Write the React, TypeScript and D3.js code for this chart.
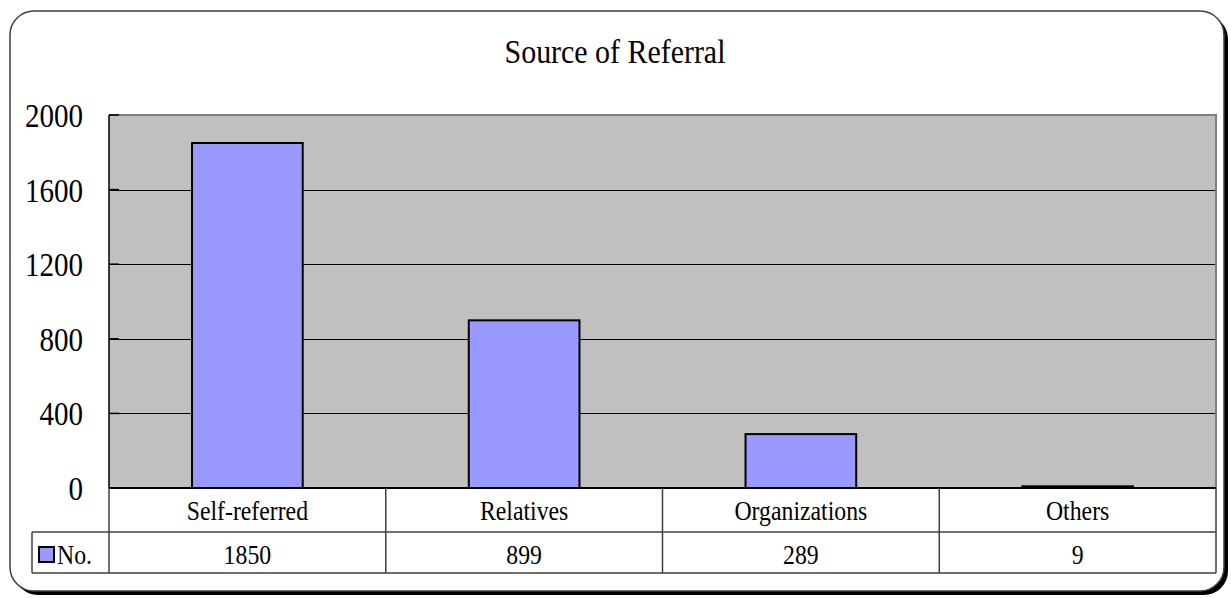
import React, { useEffect, useRef } from 'react';
import * as d3 from 'd3';

const title = 'Source of Referral';
const categories = ['Self-referred', 'Relatives', 'Organizations', 'Others'];
const seriesName = 'No.';
const values = [1850, 899, 289, 9];
const yTicks = [0, 400, 800, 1200, 1600, 2000];

const FONT = "'Liberation Serif', 'Times New Roman', 'DejaVu Serif', serif";

const App: React.FC = () => {
  const svgRef = useRef<SVGSVGElement>(null);

  useEffect(() => {
    if (!svgRef.current) return;
    const width = 1231;
    const height = 598;
    const plot = { left: 109, right: 1216, top: 115, bottom: 488 };
    const tableLeft = 32;
    const row1 = { top: 488, bottom: 532 };
    const row2 = { top: 532, bottom: 573 };

    const svg = d3.select(svgRef.current);
    svg.selectAll('*').remove();
    svg.attr('width', width).attr('height', height);

    // narrow serif text helper (reference font is tall and condensed)
    const label = (x: number, y: number, txt: string, size: number, anchor: string, sx = 0.88) =>
      svg.append('text')
        .attr('transform', `translate(${x},${y}) scale(${sx},1)`)
        .attr('text-anchor', anchor)
        .attr('font-family', FONT)
        .attr('font-size', size)
        .attr('fill', '#000')
        .text(txt);

    // outer frame with shadow
    svg.append('rect')
      .attr('x', 14).attr('y', 15).attr('width', 1214).attr('height', 580)
      .attr('rx', 24).attr('fill', '#000');
    svg.append('rect')
      .attr('x', 10).attr('y', 11).attr('width', 1214).attr('height', 580)
      .attr('rx', 24).attr('fill', '#fff').attr('stroke', '#404040').attr('stroke-width', 1.5);

    label(615, 63, title, 34, 'middle');

    const x = d3.scaleBand<string>()
      .domain(categories)
      .range([plot.left, plot.right])
      .paddingInner(0)
      .paddingOuter(0);

    const y = d3.scaleLinear()
      .domain([0, 2000])
      .range([plot.bottom, plot.top]);

    // plot background
    svg.append('rect')
      .attr('x', plot.left).attr('y', plot.top)
      .attr('width', plot.right - plot.left).attr('height', plot.bottom - plot.top)
      .attr('fill', '#c0c0c0');

    // gridlines
    svg.append('g')
      .selectAll('line')
      .data(yTicks.filter(t => t > 0 && t < 2000))
      .join('line')
      .attr('x1', plot.left).attr('x2', plot.right)
      .attr('y1', d => Math.round(y(d)) + 0.5).attr('y2', d => Math.round(y(d)) + 0.5)
      .attr('stroke', '#000').attr('stroke-width', 1);

    // plot border top/right
    svg.append('path')
      .attr('d', `M${plot.left},${plot.top} H${plot.right} V${plot.bottom}`)
      .attr('fill', 'none').attr('stroke', '#808080').attr('stroke-width', 2);

    // bars
    const barW = x.bandwidth() * 0.4;
    svg.append('g')
      .selectAll('rect')
      .data(values)
      .join('rect')
      .attr('x', (d, i) => (x(categories[i]) as number) + (x.bandwidth() - barW) / 2)
      .attr('y', d => y(d))
      .attr('width', barW)
      .attr('height', d => y(0) - y(d))
      .attr('fill', '#9999ff')
      .attr('stroke', '#000')
      .attr('stroke-width', 2);

    // y axis line and inner ticks
    svg.append('line')
      .attr('x1', plot.left).attr('x2', plot.left)
      .attr('y1', plot.top).attr('y2', plot.bottom)
      .attr('stroke', '#000').attr('stroke-width', 1.5);
    svg.append('g')
      .selectAll('line')
      .data(yTicks)
      .join('line')
      .attr('x1', plot.left).attr('x2', plot.left + 10)
      .attr('y1', d => y(d)).attr('y2', d => y(d))
      .attr('stroke', '#000').attr('stroke-width', 1.5);

    yTicks.forEach(t => label(83, y(t) + 12, String(t), 33, 'end'));

    // data table
    const tableStroke = '#404040';
    const line = (x1: number, y1: number, x2: number, y2: number, c = tableStroke, w = 1.5) =>
      svg.append('line')
        .attr('x1', x1).attr('y1', y1).attr('x2', x2).attr('y2', y2)
        .attr('stroke', c).attr('stroke-width', w);

    line(plot.left, row1.top, plot.right, row1.top, '#000', 2);
    line(tableLeft, row2.top, plot.right, row2.top);
    line(tableLeft, row2.bottom, plot.right, row2.bottom);
    line(tableLeft, row2.top, tableLeft, row2.bottom);
    categories.forEach(c => line(x(c) as number, row1.top, x(c) as number, row2.bottom));
    line(plot.right, row1.top, plot.right, row2.bottom);

    categories.forEach((c, i) => {
      const cx = (x(c) as number) + x.bandwidth() / 2;
      label(cx, (row1.top + row1.bottom) / 2 + 10, c, 27, 'middle');
      label(cx, (row2.top + row2.bottom) / 2 + 11, String(values[i]), 27, 'middle');
    });

    // legend key
    svg.append('rect')
      .attr('x', 39).attr('y', 547).attr('width', 15).attr('height', 15)
      .attr('fill', '#9999ff').attr('stroke', '#000').attr('stroke-width', 2);
    label(57, 564, seriesName, 27, 'start');
  }, []);

  return (
    <div style={{ position: 'absolute', left: 0, top: 0, width: 1231, height: 598, background: '#fff' }}>
      <svg ref={svgRef} style={{ display: 'block' }}></svg>
    </div>
  );
};

export default App;
